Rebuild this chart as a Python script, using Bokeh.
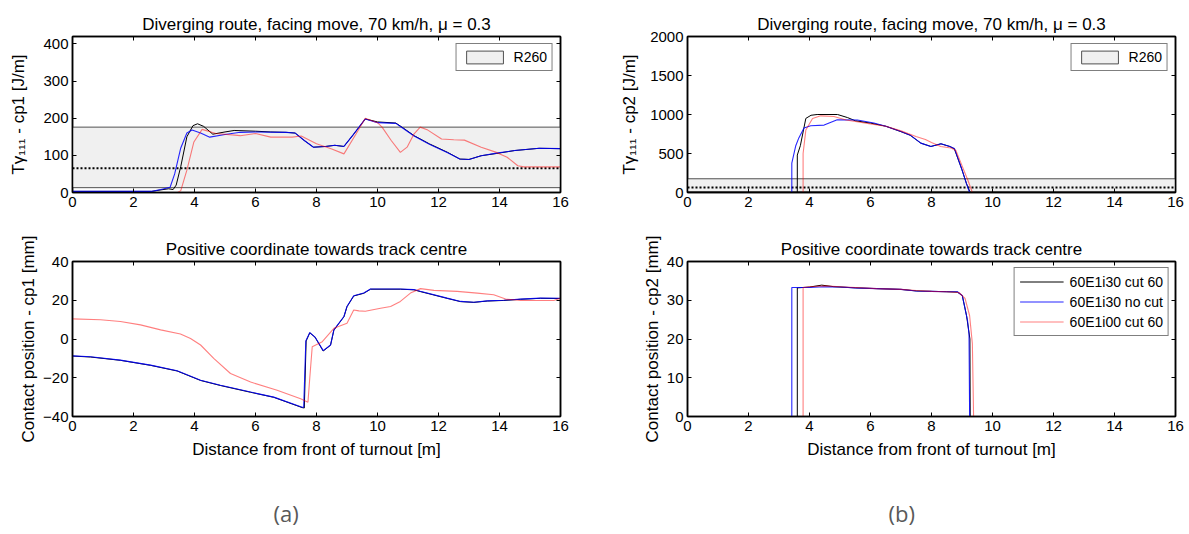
from bokeh.plotting import figure
from bokeh.models import LinearAxis, FixedTicker, Title, Range1d
from bokeh.layouts import column, row
from bokeh.embed import file_html
from bokeh.resources import INLINE

FONT = "Liberation Sans"

# ---------------- data ----------------
x_ticks = [0, 2, 4, 6, 8, 10, 12, 14, 16]
legend_names = ["60E1i30 cut 60", "60E1i30 no cut", "60E1i00 cut 60"]
panel_labels = ["(a)", "(b)"]
band_name = "R260"
r260_low = 13.0
r260_high = 176.0
r260_dotted = 65.0

# (a) top: T-gamma cp1 [J/m]
tl_black_x = [0, 2.6, 2.9, 3.15, 3.3, 3.4, 3.55, 3.75, 3.95, 4.1, 4.3, 4.6, 5.0, 5.3, 6.0, 6.5, 7.0, 7.3, 7.6, 7.9,
              8.3, 8.6, 8.9, 9.2, 9.6, 10.0, 10.6, 10.8, 11.2, 11.7, 12.3, 12.7, 13.0, 13.4, 13.9, 14.5, 15.3, 16]
tl_black_y = [3, 3, 7, 10, 8, 20, 70, 150, 180, 185, 178, 157, 163, 167, 165, 163, 162, 160, 140, 122,
              124, 127, 124, 155, 198, 190, 187, 176, 153, 131, 108, 90, 89, 99, 105, 113, 119, 118]
tl_blue_x = [0, 2.6, 2.9, 3.1, 3.2, 3.35, 3.55, 3.75, 3.92, 4.2, 4.5, 5.0, 5.5, 6.0, 7.0, 7.3, 7.6, 7.9,
             8.3, 8.6, 8.9, 9.2, 9.6, 10.0, 10.6, 10.8, 11.2, 11.7, 12.3, 12.7, 13.0, 13.4, 13.9, 14.5, 15.3, 16]
tl_blue_y = [3, 3, 8, 12, 14, 50, 120, 160, 168, 160, 149, 156, 162, 163, 162, 160, 140, 122,
             124, 127, 124, 155, 198, 188, 186, 175, 152, 130, 107, 90, 89, 99, 106, 113, 119, 118]
tl_red_x = [0, 3.45, 3.55, 3.75, 3.98, 4.25, 4.7, 5.5, 6.0, 6.5, 7.2, 7.5, 8.0, 8.5, 8.9, 9.3, 9.6, 10.0, 10.15,
            10.45, 10.75, 10.97, 11.2, 11.4, 11.65, 12.1, 12.5, 12.85, 13.4, 13.9, 14.25, 14.6, 14.8, 16]
tl_red_y = [0, 0, 5, 60, 136, 170, 159, 153, 159, 149, 149, 152, 131, 117, 104, 158, 200, 188, 176,
            140, 108, 122, 158, 176, 168, 144, 142, 141, 122, 108, 95, 72, 69, 69]

# (b) top: T-gamma cp2 [J/m]
tr_black_x = [0, 3.6, 3.6, 3.7, 3.88, 4.05, 4.25, 4.92, 5.25, 5.5, 6.0, 6.5, 7.0, 7.3, 7.65, 7.98, 8.31, 8.6,
              8.75, 9.0, 9.15, 9.27, 16]
tr_black_y = [0, 0, 480, 600, 950, 990, 1000, 1000, 960, 920, 890, 850, 780, 735, 633, 590, 624, 590,
              560, 291, 110, 0, 0]
tr_blue_x = [0, 3.42, 3.42, 3.55, 3.65, 3.82, 4.04, 4.48, 4.91, 5.57, 6.11, 6.5, 7.0, 7.3, 7.65, 7.98, 8.31, 8.6,
             8.75, 9.0, 9.15, 9.25, 16]
tr_blue_y = [0, 0, 377, 600, 700, 827, 855, 864, 932, 930, 890, 850, 782, 735, 633, 590, 624, 590,
             565, 291, 110, 0, 0]
tr_red_x = [0, 3.79, 3.79, 3.88, 4.1, 4.37, 4.8, 5.2, 6.0, 6.5, 7.0, 7.49, 7.8, 8.0, 8.3, 8.64, 8.8, 9.01,
            9.2, 9.34, 16]
tr_red_y = [0, 0, 500, 800, 950, 983, 975, 930, 880, 850, 790, 718, 680, 640, 590, 570, 540, 333,
            150, 0, 0]

# (a) bottom: contact position cp1 [mm]
bl_blue_x = [0, 0.59, 1.57, 2.56, 3.43, 4.2, 4.85, 5.84, 6.6, 7.53, 7.58, 7.65, 7.78, 7.95, 8.22, 8.46, 8.57,
             8.9, 9.0, 9.22, 9.55, 9.77, 10.75, 11.19, 11.4, 12.28, 12.72, 13.16, 13.6, 14.14, 14.69, 15.34, 16]
bl_blue_y = [-8.7, -9.2, -10.9, -13.5, -16.4, -21.3, -23.9, -27.4, -30, -35.2, -35.2, -1, 3.3, 1, -6, -3.1, 4.7,
             11.6, 16.8, 22.3, 23.7, 25.8, 25.8, 25.5, 24.6, 21.1, 19.4, 19, 19.7, 20, 20.6, 21.1, 21]
bl_black_x = [0, 0.59, 1.57, 2.56, 3.43, 4.2, 4.85, 5.84, 6.6, 7.53, 7.6, 7.66, 7.78, 7.95, 8.22, 8.46, 8.57,
              8.9, 9.0, 9.22, 9.55, 9.77, 10.75, 11.19, 11.4, 12.28, 12.72, 13.16, 13.6, 14.14, 14.69, 15.34, 16]
bl_black_y = [-8.8, -9.3, -11.0, -13.6, -16.5, -21.4, -24.0, -27.5, -30.1, -35.4, -35.6, -1, 3.2, 1, -6.2, -3.2, 4.6,
              11.5, 16.7, 22.2, 23.6, 25.7, 25.7, 25.4, 24.5, 21.0, 19.3, 18.9, 19.6, 19.9, 20.5, 21.0, 20.9]
bl_red_x = [0, 0.92, 1.57, 2.23, 2.89, 3.54, 3.87, 4.2, 4.63, 5.18, 5.84, 6.71, 7.48, 7.72, 7.78, 7.86, 8.19, 8.57,
            9.0, 9.22, 9.39, 9.6, 10.1, 10.43, 10.75, 11.08, 11.41, 11.85, 12.61, 13.27, 13.81, 14.2, 14.69,
            15.78, 16]
bl_red_y = [10.4, 9.9, 9.0, 7.3, 4.7, 2.6, 0.3, -3.1, -10, -17.8, -22.2, -26.5, -30.8, -32.6, -20, -4, -1.4, 5.5,
            8.1, 15, 14.5, 14.3, 15.9, 16.8, 19.4, 23.7, 26, 25.1, 24.6, 23.7, 22.8, 20.6, 19.9,
            19.9, 21]

# (b) bottom: contact position cp2 [mm]
br_black_x = [0, 3.6, 3.6, 4.0, 4.4, 4.8, 5.5, 6.2, 7.0, 7.5, 8.0, 8.5, 8.85, 9.01, 9.15, 9.26, 9.27, 16]
br_black_y = [0, 0, 33.2, 33.4, 33.9, 33.5, 33.2, 33.0, 32.8, 32.4, 32.3, 32.2, 32.1, 31.2, 26, 20, 0, 0]
br_blue_x = [0, 3.42, 3.42, 4.0, 4.47, 5.0, 5.5, 6.2, 7.0, 7.5, 8.0, 8.5, 8.85, 9.01, 9.18, 9.23, 9.25, 16]
br_blue_y = [0, 0, 33.3, 33.3, 33.5, 33.4, 33.2, 33.0, 32.8, 32.4, 32.3, 32.2, 32.2, 31.2, 24.8, 21.3, 0, 0]
br_red_x = [0, 3.79, 3.79, 4.0, 4.5, 5.0, 5.5, 6.2, 7.0, 7.5, 8.0, 8.5, 8.9, 9.1, 9.25, 9.34, 9.38, 16]
br_red_y = [0, 0, 33.3, 33.5, 33.7, 33.5, 33.3, 33.0, 32.8, 32.5, 32.3, 32.2, 32.0, 30.5, 26, 18.8, 0, 0]

# ---------------- styling helpers ----------------
BLACK = "#000000"
BLUE = "#0000ff"
RED = "#ff0000"


def style_axis(ax, ticks, labels=True):
    ax.ticker = FixedTicker(ticks=ticks)
    ax.axis_line_color = "black"
    ax.axis_line_width = 1.5
    ax.major_tick_in = 4
    ax.major_tick_out = 0
    ax.major_tick_line_color = "black"
    ax.major_tick_line_width = 1
    ax.minor_tick_in = 0
    ax.minor_tick_out = 0
    ax.minor_tick_line_color = None
    ax.major_label_text_font = FONT
    if labels:
        ax.major_label_text_color = "black"
        ax.major_label_text_font_size = "15px"
        ax.major_label_standoff = 4
    else:
        ax.major_label_text_color = None
        ax.major_label_text_font_size = "1px"
        ax.major_label_standoff = 0
    ax.axis_label_text_font = FONT
    ax.axis_label_text_font_size = "17px"
    ax.axis_label_text_font_style = "normal"
    ax.axis_label_text_color = "black"


def make_fig(width, height, left, right, top, bottom, yr, yticks, title, ylabel, ystandoff, xlabel=None):
    p = figure(width=width, height=height, x_range=Range1d(0, 16), y_range=Range1d(*yr),
               output_backend="svg", toolbar_location=None, tools="",
               min_border_left=left, min_border_right=right, min_border_top=top, min_border_bottom=bottom)
    p.background_fill_color = "white"
    p.border_fill_color = "white"
    p.outline_line_color = "black"
    p.outline_line_width = 1.5
    p.grid.visible = False
    p.title.text = title
    p.title.align = "center"
    p.title.text_font = FONT
    p.title.text_font_size = "17px"
    p.title.text_font_style = "normal"
    p.title.text_color = "black"
    p.title.standoff = 6
    style_axis(p.xaxis[0], x_ticks)
    style_axis(p.yaxis[0], yticks)
    p.yaxis[0].axis_label = ylabel
    p.yaxis[0].axis_label_standoff = ystandoff
    if xlabel:
        p.xaxis[0].axis_label = xlabel
        p.xaxis[0].axis_label_standoff = 6
    top_ax = LinearAxis()
    style_axis(top_ax, x_ticks, labels=False)
    p.add_layout(top_ax, "above")
    right_ax = LinearAxis()
    style_axis(right_ax, yticks, labels=False)
    p.add_layout(right_ax, "right")
    return p


def add_band(p):
    p.quad(left=[0], right=[16], bottom=[r260_low], top=[r260_high], fill_color="#f0f0f0",
           line_color="#505050", line_width=1, legend_label=band_name)
    p.line([0, 16], [r260_dotted, r260_dotted], line_color="black", line_width=2, line_dash="2 2")


def style_legend(p, gh, gw, pad):
    lg = p.legend[0]
    lg.location = "top_right"
    lg.margin = 7
    lg.border_line_color = "black"
    lg.border_line_width = 1.5
    lg.background_fill_color = "white"
    lg.background_fill_alpha = 1
    lg.padding = pad
    lg.spacing = 3
    lg.label_text_font = FONT
    lg.label_text_font_size = "14px"
    lg.label_text_color = "black"
    lg.glyph_height = gh
    lg.label_height = gh
    lg.glyph_width = gw
    lg.label_standoff = 6


def add_lines(p, bx, by, ux, uy, rx, ry, legend=False):
    kw = [{}, {}, {}]
    if legend:
        kw = [{"legend_label": n} for n in legend_names]
    p.line(bx, by, line_color=BLACK, line_width=1, **kw[0])
    p.line(ux, uy, line_color=BLUE, line_width=1.1, line_alpha=0.85, **kw[1])
    p.line(rx, ry, line_color=RED, line_width=1.1, line_alpha=0.5, **kw[2])


def label_fig(width, left, text):
    p = figure(width=width, height=58, x_range=Range1d(0, 16), y_range=Range1d(0, 1),
               output_backend="svg", toolbar_location=None, tools="",
               min_border_left=left, min_border_right=0, min_border_top=52, min_border_bottom=0)
    p.xaxis.visible = False
    p.yaxis.visible = False
    p.grid.visible = False
    p.outline_line_color = None
    p.background_fill_color = "white"
    p.border_fill_color = "white"
    p.title.text = text
    p.title.align = "left"
    p.title.offset = 201
    p.title.standoff = 2
    p.title.text_font = "Open Sans"
    p.title.text_font_size = "22px"
    p.title.text_font_style = "normal"
    p.title.text_color = "#595959"
    return p


TITLE_TOP = "Diverging route, facing move, 70 km/h, \u03bc = 0.3"
TITLE_BOT = "Positive coordinate towards track centre"
XLABEL = "Distance from front of turnout [m]"

# top-left
p1 = make_fig(590, 227, 72, 30, 36, 35, (0, 420), [0, 100, 200, 300, 400], TITLE_TOP,
              "T\u03b3\u2081\u2081\u2081 - cp1 [J/m]", 12)
add_band(p1)
add_lines(p1, tl_black_x, tl_black_y, tl_blue_x, tl_blue_y, tl_red_x, tl_red_y)
style_legend(p1, 16, 46, 5)

# top-right
p2 = make_fig(599, 227, 97, 14, 36, 35, (0, 2000), [0, 500, 1000, 1500, 2000], TITLE_TOP,
              "T\u03b3\u2081\u2081\u2081 - cp2 [J/m]", 8)
add_band(p2)
add_lines(p2, tr_black_x, tr_black_y, tr_blue_x, tr_blue_y, tr_red_x, tr_red_y)
style_legend(p2, 16, 46, 5)

# bottom-left
p3 = make_fig(590, 249, 72, 30, 34, 60, (-40, 40), [-40, -20, 0, 20, 40], TITLE_BOT,
              "Contact position - cp1 [mm]", 2, XLABEL)
add_lines(p3, bl_black_x, bl_black_y, bl_blue_x, bl_blue_y, bl_red_x, bl_red_y)

# bottom-right
p4 = make_fig(599, 249, 97, 14, 34, 60, (0, 40), [0, 10, 20, 30, 40], TITLE_BOT,
              "Contact position - cp2 [mm]", 2, XLABEL)
add_lines(p4, br_black_x, br_black_y, br_blue_x, br_blue_y, br_red_x, br_red_y, legend=True)
style_legend(p4, 17, 44, 5)
p4.legend[0].margin = 6

p5 = label_fig(590, 72, panel_labels[0])
p6 = label_fig(599, 97, panel_labels[1])

layout = column(row(p1, p2), row(p3, p4), row(p5, p6))
open("out.html", "w").write(file_html(layout, INLINE))
